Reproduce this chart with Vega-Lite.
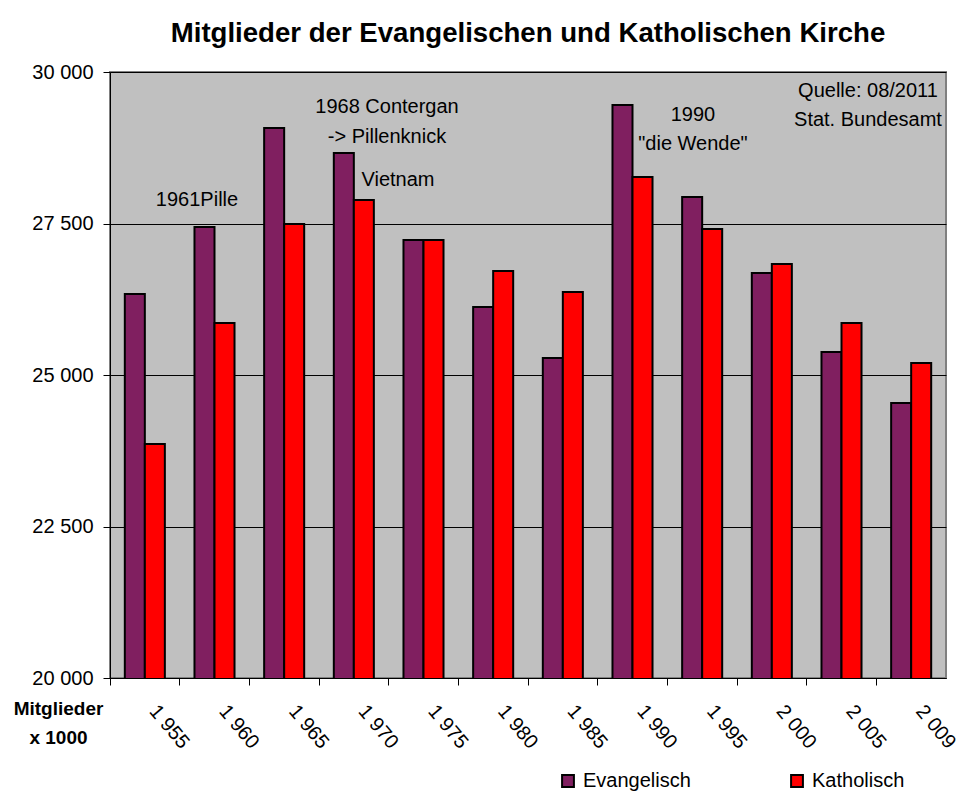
{
  "$schema": "https://vega.github.io/schema/vega-lite/v6.json",
  "width": 836,
  "height": 606,
  "autosize": "none",
  "padding": {"left": 110, "top": 72, "right": 24, "bottom": 134},
  "background": "white",
  "config": {
    "font": "Liberation Sans",
    "view": {"fill": "#C0C0C0", "stroke": "#808080", "strokeWidth": 2}
  },
  "title": {
    "text": "Mitglieder der Evangelischen und Katholischen Kirche",
    "font": "Liberation Sans",
    "fontSize": 27.6,
    "fontWeight": "bold",
    "color": "black",
    "anchor": "middle",
    "frame": "group",
    "baseline": "alphabetic",
    "offset": -8
  },
  "datasets": {
    "bars": [
      {"jahr": 1955, "kirche": "Evangelisch", "mitglieder": 26337},
      {"jahr": 1955, "kirche": "Katholisch", "mitglieder": 23861},
      {"jahr": 1960, "kirche": "Evangelisch", "mitglieder": 27442},
      {"jahr": 1960, "kirche": "Katholisch", "mitglieder": 25858},
      {"jahr": 1965, "kirche": "Evangelisch", "mitglieder": 29076},
      {"jahr": 1965, "kirche": "Katholisch", "mitglieder": 27492},
      {"jahr": 1970, "kirche": "Evangelisch", "mitglieder": 28663},
      {"jahr": 1970, "kirche": "Katholisch", "mitglieder": 27888},
      {"jahr": 1975, "kirche": "Evangelisch", "mitglieder": 27228},
      {"jahr": 1975, "kirche": "Katholisch", "mitglieder": 27228},
      {"jahr": 1980, "kirche": "Evangelisch", "mitglieder": 26122},
      {"jahr": 1980, "kirche": "Katholisch", "mitglieder": 26716},
      {"jahr": 1985, "kirche": "Evangelisch", "mitglieder": 25281},
      {"jahr": 1985, "kirche": "Katholisch", "mitglieder": 26370},
      {"jahr": 1990, "kirche": "Evangelisch", "mitglieder": 29455},
      {"jahr": 1990, "kirche": "Katholisch", "mitglieder": 28267},
      {"jahr": 1995, "kirche": "Evangelisch", "mitglieder": 27937},
      {"jahr": 1995, "kirche": "Katholisch", "mitglieder": 27409},
      {"jahr": 2000, "kirche": "Evangelisch", "mitglieder": 26683},
      {"jahr": 2000, "kirche": "Katholisch", "mitglieder": 26832},
      {"jahr": 2005, "kirche": "Evangelisch", "mitglieder": 25380},
      {"jahr": 2005, "kirche": "Katholisch", "mitglieder": 25858},
      {"jahr": 2009, "kirche": "Evangelisch", "mitglieder": 24538},
      {"jahr": 2009, "kirche": "Katholisch", "mitglieder": 25198}
    ],
    "notes": [
      {"pos": 1.249, "wert": 27888, "text": "1961Pille"},
      {"pos": 3.976, "wert": 29422, "text": "1968 Contergan"},
      {"pos": 3.976, "wert": 28927, "text": "-> Pillenknick"},
      {"pos": 4.134, "wert": 28218, "text": "Vietnam"},
      {"pos": 8.368, "wert": 29290, "text": "1990"},
      {"pos": 8.368, "wert": 28812, "text": "\"die Wende\""},
      {"pos": 10.88, "wert": 29686, "text": "Quelle: 08/2011"},
      {"pos": 10.88, "wert": 29208, "text": "Stat. Bundesamt"}
    ]
  },
  "resolve": {"scale": {"x": "independent"}, "axis": {"x": "independent"}},
  "layer": [
    {
      "data": {"name": "bars"},
      "mark": {"type": "bar", "stroke": "black", "strokeWidth": 2, "clip": true},
      "encoding": {
        "x": {
          "field": "jahr",
          "type": "nominal",
          "sort": null,
          "scale": {"paddingInner": 0, "paddingOuter": 0},
          "axis": {
            "bandPosition": 0,
            "labelOffset": 16,
            "labelAngle": 50,
            "labelAlign": "left",
            "labelBaseline": "top",
            "labelPadding": 16,
            "labelFontSize": 20,
            "labelColor": "black",
            "labelExpr": "substring(datum.label,0,1) + ' ' + substring(datum.label,1)",
            "tickColor": "black",
            "tickSize": 7,
            "domainColor": "black",
            "domainWidth": 1,
            "title": ["Mitglieder", "x 1000"],
            "titleFontSize": 19,
            "titleFontWeight": "bold",
            "titleColor": "black",
            "titleX": -52,
            "titleY": 30,
            "titleAlign": "center",
            "titleBaseline": "middle",
            "titleLineHeight": 29,
            "titleAngle": 0
          }
        },
        "xOffset": {
          "field": "kirche",
          "type": "nominal",
          "sort": ["Evangelisch", "Katholisch"],
          "scale": {"paddingInner": 0, "paddingOuter": 0.74}
        },
        "y": {
          "field": "mitglieder",
          "type": "quantitative",
          "scale": {"domain": [20000, 30000], "nice": false, "zero": false},
          "axis": {
            "values": [20000, 22500, 25000, 27500, 30000],
            "labelExpr": "replace(format(datum.value, ','), ',', ' ')",
            "labelFontSize": 20,
            "labelColor": "black",
            "labelPadding": 10,
            "tickColor": "black",
            "tickSize": 7,
            "domainColor": "black",
            "grid": true,
            "gridColor": "black",
            "gridWidth": 1,
            "gridOpacity": 1,
            "title": null
          }
        },
        "color": {
          "field": "kirche",
          "type": "nominal",
          "scale": {"domain": ["Evangelisch", "Katholisch"], "range": ["#801F60", "#FF0000"]},
          "legend": {
            "title": null,
            "orient": "none",
            "legendX": 448,
            "legendY": 699,
            "direction": "horizontal",
            "padding": 0,
            "symbolType": "square",
            "symbolSize": 140,
            "symbolStrokeColor": "black",
            "symbolStrokeWidth": 2,
            "symbolOpacity": 1,
            "labelFontSize": 20,
            "labelColor": "black",
            "labelOffset": 5,
            "columnPadding": 96
          }
        }
      }
    },
    {
      "data": {"name": "notes"},
      "mark": {"type": "text", "fontSize": 20, "color": "black", "align": "center", "baseline": "middle"},
      "encoding": {
        "x": {"field": "pos", "type": "quantitative", "scale": {"domain": [0, 12], "nice": false, "zero": false}, "axis": null},
        "y": {"field": "wert", "type": "quantitative"},
        "text": {"field": "text"}
      }
    }
  ]
}
